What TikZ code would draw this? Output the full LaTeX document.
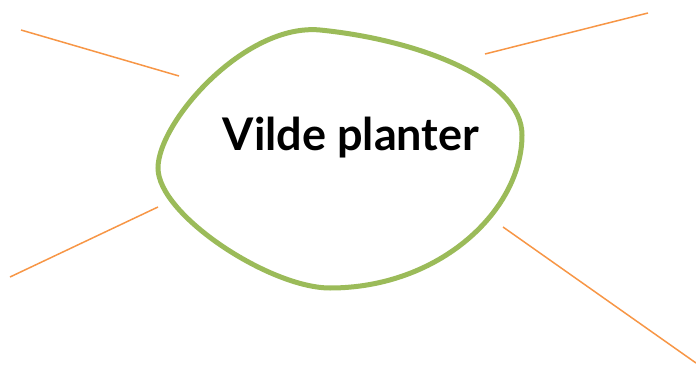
\documentclass[tikz,border=0pt]{standalone}
\usepackage{fontspec}
\setsansfont{Lato}
\usepackage{tikz}
\usetikzlibrary{positioning}
\definecolor{blobgreen}{RGB}{155,187,89}
\definecolor{rayorange}{RGB}{247,150,70}

\begin{document}
\begin{tikzpicture}[x=1pt,y=-1pt,
                    blob/.style={draw=blobgreen,line width=5pt},
                    ray/.style={draw=rayorange,line width=1.5pt},
                    title node/.style={font=\sffamily\bfseries\fontsize{45}{52}\selectfont}]
  \useasboundingbox (0,0) rectangle (696,369);

  % the green blob
  \draw[blob] (320,30) .. controls (420,40) and (522,80) .. (522,135)
                       .. controls (522,210) and (440,288) .. (330,288)
                       .. controls (270,288) and (158,215) .. (158,168)
                       .. controls (158,122) and (245,23) .. cycle;

  \node[title node] (title) at (351,138) {Vilde planter};

  \coordinate (a1) at (21,30);   \coordinate (a2) at (179,76);
  \coordinate (b1) at (485,54);  \coordinate (b2) at (648,13);
  \coordinate (c1) at (10,277);  \coordinate (c2) at (158,207);
  \coordinate (d1) at (503,227); \coordinate (d2) at (696,363);

  \path[ray]
    (a1) edge (a2)
    (b1) edge (b2)
    (c1) edge (c2)
    (d1) edge (d2);
\end{tikzpicture}
\end{document}
